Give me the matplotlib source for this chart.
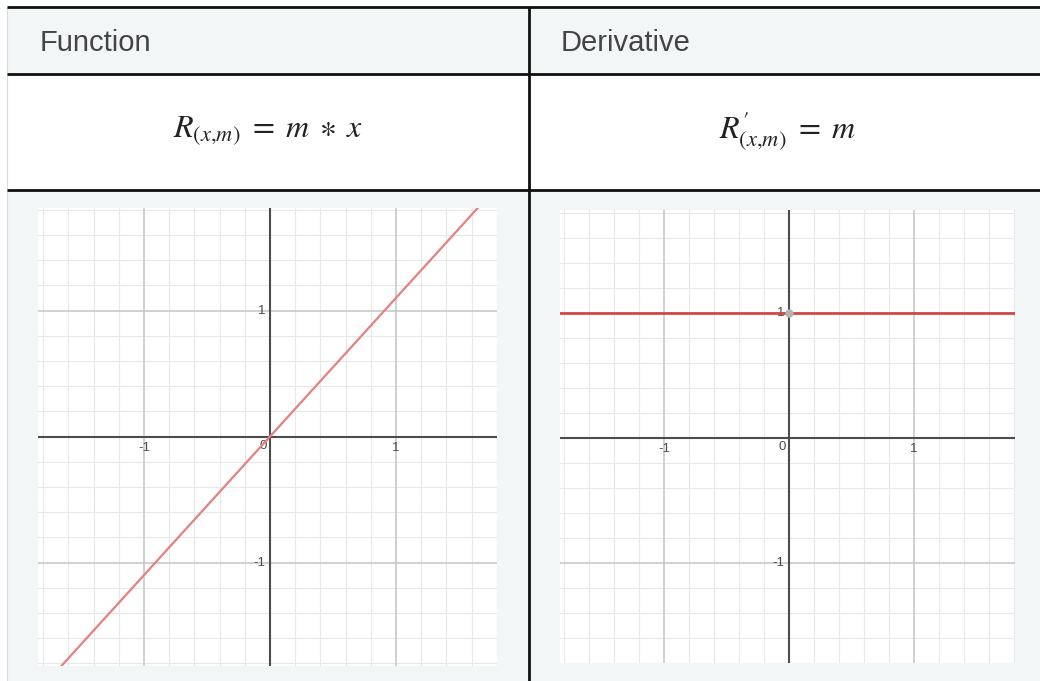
import matplotlib
matplotlib.use("Agg")
import matplotlib.pyplot as plt
import numpy as np

plt.rcParams['mathtext.fontset'] = 'stix'

# Table content
header_labels = ["Function", "Derivative"]
formula_labels = [r"$R_{(x{,}m)}\;=\;m\;\ast\;x$", r"$R^{\prime}_{(x{,}m)}\;=\;m$"]

# Plotted curves: R(x) = m*x and its derivative R'(x) = m
func_x = [-2.0, 2.0]
func_y = [-2.2, 2.2]
deriv_x = [-2.0, 2.0]
deriv_y = [1.0, 1.0]
deriv_point = (0.0, 1.0)

x_tick_labels = {-1: "-1", 1: "1"}
y_tick_labels = {-1: "-1", 1: "1"}

W, H = 1040, 681
fig = plt.figure(figsize=(W / 100, H / 100), dpi=100)

# Full-figure pixel canvas for the table layout
bg = fig.add_axes([0, 0, 1, 1])
bg.set_xlim(0, W)
bg.set_ylim(H, 0)
bg.axis("off")

panel = "#f3f6f7"
left_edge, mid_x = 7, 529
row_top, row_head, row_form = 7, 74, 190

bg.add_patch(plt.Rectangle((left_edge, row_top), W - left_edge, row_head - row_top,
                           facecolor=panel, edgecolor="none"))
bg.add_patch(plt.Rectangle((left_edge, row_form), W - left_edge, H - row_form,
                           facecolor=panel, edgecolor="none"))
bg.plot([left_edge, left_edge], [row_top, H], color="#d8dcdd", lw=0.8)
for yy in (row_top, row_head, row_form):
    bg.plot([left_edge, W], [yy, yy], color="#111111", lw=2.0, solid_capstyle="butt")
bg.plot([mid_x, mid_x], [row_top, H], color="#111111", lw=2.0, solid_capstyle="butt")

bg.text(40, 43, header_labels[0], fontsize=21, family="Liberation Sans",
        color="#444444", va="center", ha="left")
bg.text(561, 43, header_labels[1], fontsize=21, family="Liberation Sans",
        color="#444444", va="center", ha="left")

bg.text((left_edge + mid_x) / 2, 131, formula_labels[0], fontsize=23,
        color="#222222", ha="center", va="center")
bg.text(787, 131, formula_labels[1], fontsize=23,
        color="#222222", ha="center", va="center")


def graph_axes(px_left, px_right, px_top, px_bottom, x0_px, y0_px, unit):
    ax = fig.add_axes([px_left / W, 1 - px_bottom / H,
                       (px_right - px_left) / W, (px_bottom - px_top) / H])
    ax.set_xlim((px_left - x0_px) / unit, (px_right - x0_px) / unit)
    ax.set_ylim((y0_px - px_bottom) / unit, (y0_px - px_top) / unit)
    ax.set_facecolor("white")
    for s in ax.spines.values():
        s.set_visible(False)
    ax.set_xticks([])
    ax.set_yticks([])
    minor = np.round(np.arange(-2.0, 2.01, 0.2), 2)
    for v in minor:
        if abs(v - round(v)) > 1e-6:
            ax.axvline(v, color="#e8e8e8", lw=0.8, zorder=1)
            ax.axhline(v, color="#e8e8e8", lw=0.8, zorder=1)
    for v in (-2, -1, 1, 2):
        ax.axvline(v, color="#c4c4c4", lw=1.1, zorder=2)
        ax.axhline(v, color="#c4c4c4", lw=1.1, zorder=2)
    ax.axvline(0, color="#4c4c4c", lw=1.5, zorder=3)
    ax.axhline(0, color="#4c4c4c", lw=1.5, zorder=3)

    lab = dict(fontsize=9.5, family="Liberation Sans", color="#4a4a4a", zorder=4)
    for v, t in x_tick_labels.items():
        ax.text(v, -0.088, t, ha="center", va="center", **lab)
    for v, t in y_tick_labels.items():
        ax.text(-0.035, v, t, ha="right", va="center", **lab)
    ax.text(-0.058, -0.074, "0", ha="center", va="center", **lab)
    return ax


ax1 = graph_axes(38, 497, 208, 666, 270, 436.5, 126)
ax1.plot(func_x, func_y, color="#e3817f", lw=1.6, zorder=5, solid_capstyle="butt")

ax2 = graph_axes(560, 1015, 210, 663, 789, 437.5, 125)
ax2.plot(deriv_x, deriv_y, color="#d2474a", lw=2.0, zorder=5, solid_capstyle="butt")
ax2.plot([deriv_point[0]], [deriv_point[1]], "o", color="#b4b4b4", ms=6, mec="none", zorder=6)

fig.savefig("out.png", dpi=100)
